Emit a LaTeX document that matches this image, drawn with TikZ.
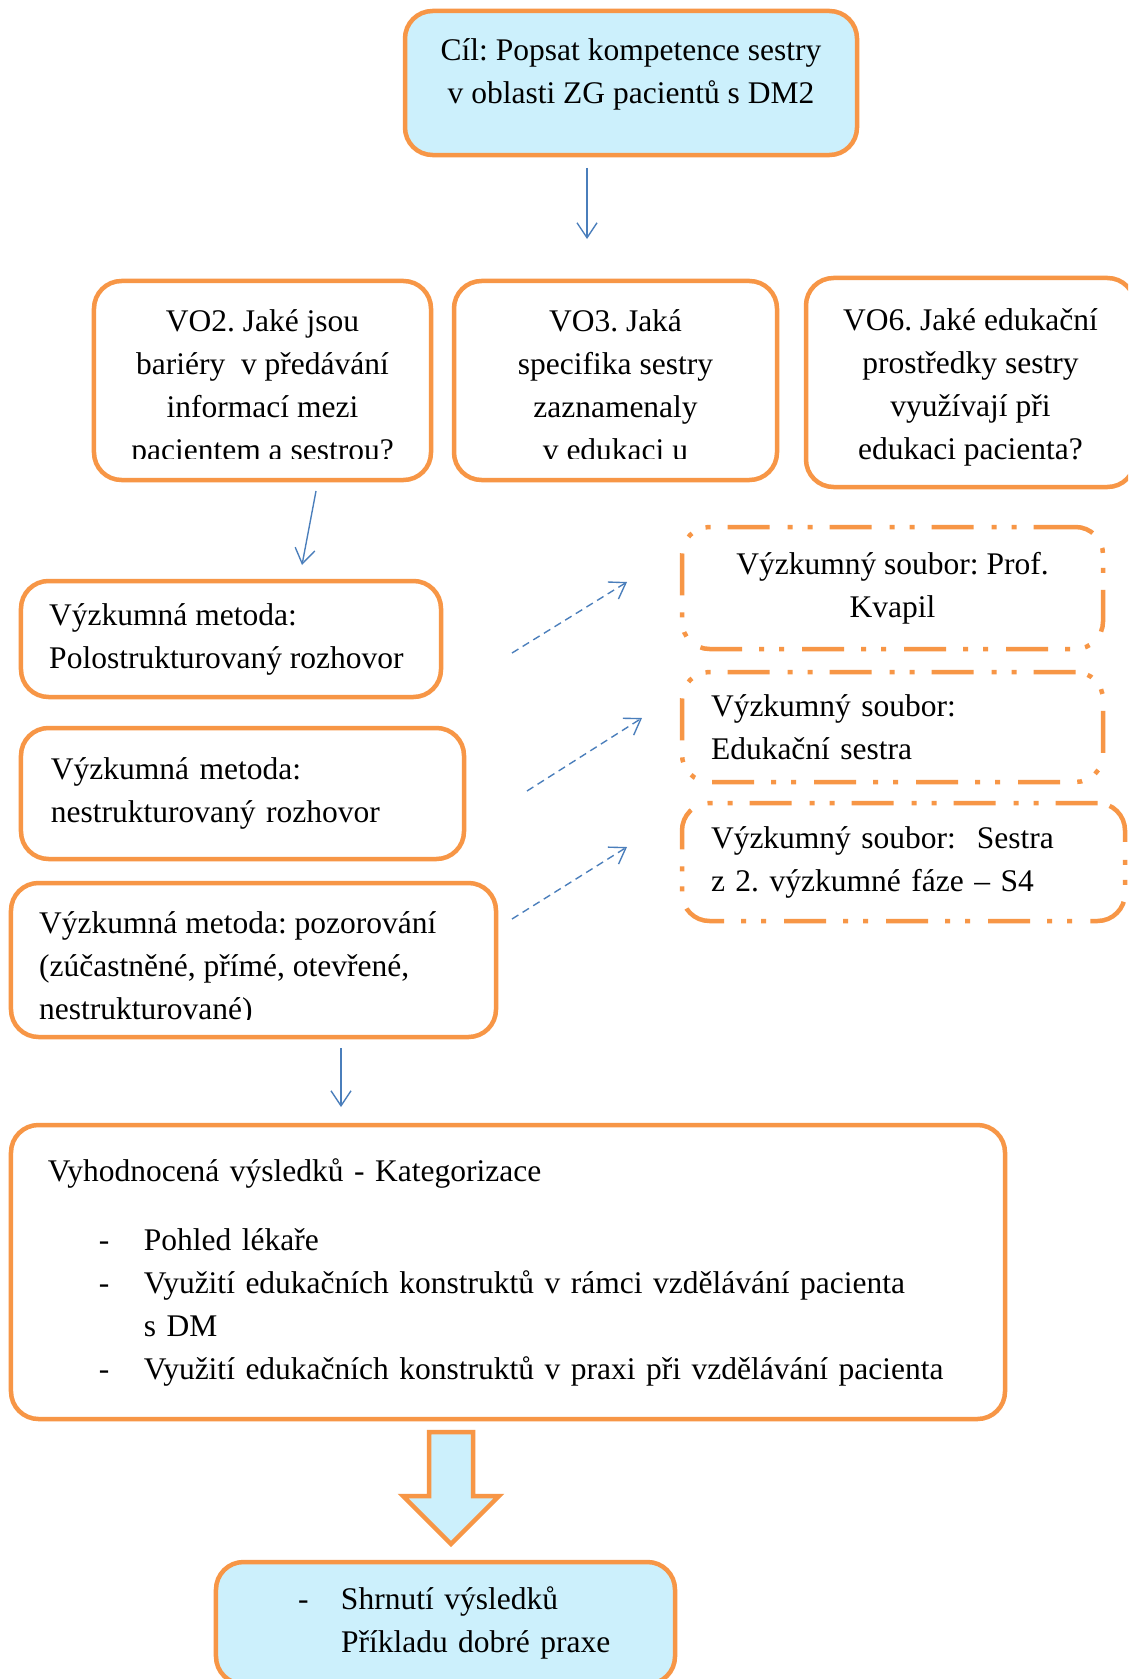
\documentclass[tikz,border=0pt]{standalone}
\usepackage{fontspec}
\setmainfont{Liberation Serif}
\usetikzlibrary{arrows.meta}

\definecolor{boxorange}{HTML}{F79646}
\definecolor{boxcyan}{HTML}{CCF0FC}
\definecolor{linkblue}{HTML}{4A7EBB}

\newcommand{\boxfont}{\frenchspacing\fontsize{12.6pt}{17.2pt}\selectfont}
\newcommand{\listdash}[2]{\hspace*{#1}\makebox[#2][l]{-}}
\newcommand{\listgap}[1]{\hspace*{#1}}

\tikzset{
  box/.style={draw=boxorange, line width=1.8pt, rounded corners=11pt, inner sep=0pt, font=\boxfont},
  goalbox/.style={box, fill=boxcyan},
  samplebox/.style={box, dash pattern=on 16.8pt off 6.8pt on 2pt off 6pt on 2pt off 7.2pt},
  boxtext/.style={inner sep=0pt, font=\boxfont, align=center},
  link/.style={draw=linkblue, line width=0.55pt, -{Straight Barb[length=6pt,width=8pt]}},
  dashlink/.style={link, dash pattern=on 3pt off 2pt},
  bigarrow/.style={draw=boxorange, fill=boxcyan, line width=1.8pt, line join=miter}
}

\begin{document}
\begin{tikzpicture}[x=0.4pt, y=-0.4pt]

    \clip (0,0) rectangle (1128,1679);
    \fill[white] (0,0) rectangle (1128,1679);

    % goal
    \node[goalbox, minimum width=180.8pt, minimum height=57.6pt] (cil) at (631,83) {};
    \node[boxtext] (cil text) at ([yshift=3.3pt]cil.center) {Cíl: Popsat kompetence sestry\\v oblasti ZG pacientů s DM2};

    % research questions
    \node[box, minimum width=134.8pt, minimum height=79.6pt] (vo2) at (262.5,380.5) {};
    \node[box, minimum width=129.2pt, minimum height=79.6pt] (vo3) at (615.5,380.5) {};
    \node[box, minimum width=131.6pt, minimum height=83.6pt] (vo6) at (970.5,382.5) {};
    \begin{scope}
        \clip (0,0) rectangle (1128,458);
        \node[boxtext] (vo2 text) at ([yshift=-3pt]vo2.center)
            {VO2. Jaké jsou\\bariéry\ \ v předávání\\informací mezi\\pacientem a sestrou?};
        \node[boxtext] (vo3 text) at ([yshift=-1.8pt]vo3.center)
            {VO3. Jaká\\specifika sestry\\zaznamenaly\\v edukaci u};
    \end{scope}
    \node[boxtext] (vo6 text) at ([yshift=-1.8pt]vo6.center)
        {VO6. Jaké edukační\\prostředky sestry\\využívají při\\edukaci pacienta?};

    % methods
    \node[box, minimum width=168pt, minimum height=46.4pt] (m1) at (231,639) {};
    \node[boxtext, anchor=west, align=left] (m1 text) at ([xshift=12pt]m1.west)
        {Výzkumná metoda:\\Polostrukturovaný rozhovor};
    \node[box, minimum width=177.2pt, minimum height=52.4pt, text width=153.2pt, inner xsep=12pt, align=left] (m2) at (242.5,793.5)
        {Výzkumná metoda:\\nestrukturovaný rozhovor};
    \node[box, minimum width=194pt, minimum height=61.6pt] (m3) at (253.5,960) {};
    \begin{scope}
        \clip (0,0) rectangle (1128,1019);
        \node[boxtext, anchor=west, align=left] (m3 text) at ([xshift=12pt, yshift=-3.4pt]m3.west)
            {Výzkumná metoda: pozorování\\(zúčastněné, přímé, otevřené,\\nestrukturované)};
    \end{scope}

    % samples
    \node[samplebox, minimum width=168.4pt, minimum height=48.8pt, align=center] (s1) at (892.5,588)
        {Výzkumný soubor: Prof.\\Kvapil};
    \node[samplebox, minimum width=168.4pt, minimum height=44pt, text width=145.2pt, inner xsep=11.6pt, align=left] (s2) at (892.5,727)
        {Výzkumný soubor:\\Edukační sestra};
    \node[samplebox, minimum width=177.2pt, minimum height=47.2pt, text width=154pt, inner xsep=11.6pt, align=left] (s3) at (903.5,862)
        {Výzkumný soubor:\ \ Sestra\\z 2. výzkumné fáze -- S4};

    % results
    \node[box, minimum width=397.6pt, minimum height=117.6pt, text width=368pt, inner xsep=14.8pt, align=left] (results) at (508,1272)
        {Vyhodnocená výsledků - Kategorizace\\[10.4pt]
         \listdash{20.4pt}{18pt}Pohled lékaře\\
         \listdash{20.4pt}{18pt}Využití edukačních konstruktů v rámci vzdělávání pacienta\\
         \listgap{38.4pt}s DM\\
         \listdash{20.4pt}{18pt}Využití edukačních konstruktů v praxi při vzdělávání pacienta};

    % summary
    \node[goalbox, minimum width=183.6pt, minimum height=48.8pt, text width=183.6pt, align=left] (summary) at (445.5,1623)
        {\listdash{32.8pt}{17.2pt}Shrnutí výsledků\\
         \listgap{50pt}Příkladu dobré praxe};

    % arrow ends
    \coordinate (cil out) at (587,168);
    \coordinate (vo in) at (587,239);
    \coordinate (vo2 out) at (316,491);
    \coordinate (m1 in) at (302,565);
    \coordinate (m3 out) at (341,1048);
    \coordinate (results in) at (341,1107);
    \coordinate (m1 out) at (512,653);
    \coordinate (s1 in) at (627,582);
    \coordinate (m2 out) at (527,791);
    \coordinate (s2 in) at (642,718);
    \coordinate (m3 side) at (512,919);
    \coordinate (s3 in) at (627,847);

    \draw[link] (cil out) -- (vo in);
    \draw[link] (vo2 out) -- (m1 in);
    \draw[link] (m3 out) -- (results in);

    \draw[dashlink] (m1 out) -- (s1 in);
    \draw[dashlink] (m2 out) -- (s2 in);
    \draw[dashlink] (m3 side) -- (s3 in);

    % block arrow to summary
    \draw[bigarrow] (429,1432) -- (473,1432) -- (473,1496) -- (499,1496)
        -- (451,1544) -- (403,1496) -- (429,1496) -- cycle;

\end{tikzpicture}
\end{document}
